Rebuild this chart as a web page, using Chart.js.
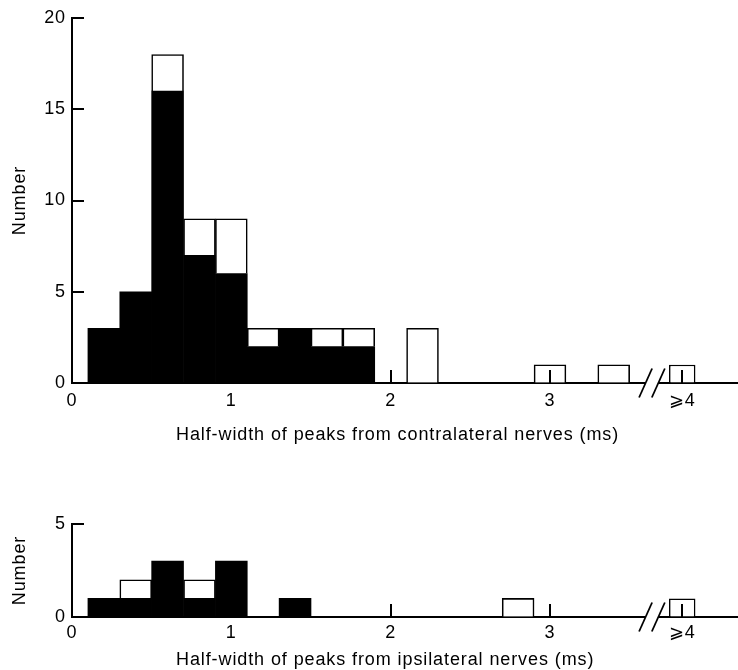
<!DOCTYPE html>
<html>
<head>
<meta charset="utf-8">
<script src="https://cdn.jsdelivr.net/npm/chart.js@4/dist/chart.umd.min.js"></script>
<style>
  html, body { margin: 0; padding: 0; background: #fff; overflow: hidden; }
  #wrap { position: relative; width: 738px; height: 670px; }
  canvas { position: absolute; left: 0; }
  #contra { top: 0; }
  #ipsi { top: 450px; }
</style>
</head>
<body>
<div id="wrap">
  <canvas id="contra" width="738" height="450"></canvas>
  <canvas id="ipsi" width="738" height="220"></canvas>
</div>
<script>
// Half-width bins (ms): centres of 0.2 ms wide bins, 0.1-0.3, 0.3-0.5, ...
const binCentres = [0.2, 0.4, 0.6, 0.8, 1.0, 1.2, 1.4, 1.6, 1.8, 2.0, 2.2, 2.4, 2.6, 2.8, 3.0, 3.2, 3.4];

// Contralateral nerves: filled and open parts of each bin
const contraFilled = [3, 5, 16, 7, 6, 2, 3, 2, 2, 0, 0, 0, 0, 0, 0, 0, 0];
const contraOpen   = [0, 0,  2, 2, 3, 1, 0, 1, 1, 0, 3, 0, 0, 0, 1, 0, 1];
// ">=4 ms" bin: [filled, open]
const contraOverflow = [0, 1];

// Ipsilateral nerves
const ipsiFilled = [1, 1, 3, 1, 3, 0, 1, 0, 0, 0, 0, 0, 0, 0, 0, 0, 0];
const ipsiOpen   = [0, 1, 0, 1, 0, 0, 0, 0, 0, 0, 0, 0, 0, 1, 0, 0, 0];
const ipsiOverflow = [0, 1];

// Axis labels
const xTickValues = [0, 1, 2, 3];
const xTickLabels = ['0', '1', '2', '3', '\u2A7E4'];
const contraYMax = 20;
const ipsiYMax = 5;
const yStep = 5;
const yTitle = 'Number';
const contraCaption = 'Half-width of peaks from contralateral nerves (ms)';
const ipsiCaption = 'Half-width of peaks from ipsilateral nerves (ms)';

// Broken x axis: the open-ended bin sits past the break
const OVERFLOW_AT = 3.83;
const BREAK_MARKS = [3.6, 3.68];
const X_MAX = 4.18;

const FONT = { family: "'Liberation Sans', Arial, Helvetica, sans-serif", size: 18 };
const LETTER_SPACING = '0.9px';

const textSpacing = {
  id: 'textSpacing',
  beforeUpdate(chart) { chart.ctx.letterSpacing = LETTER_SPACING; },
  beforeDraw(chart) { chart.ctx.letterSpacing = LETTER_SPACING; }
};

// Inward tick marks, axis break and the caption under the axis
const axisDecor = {
  id: 'axisDecor',
  afterDraw(chart, args, opts) {
    const { ctx, chartArea: a, scales: { x, y } } = chart;
    ctx.save();
    ctx.strokeStyle = '#000';
    ctx.lineWidth = 2;
    ctx.lineCap = 'butt';
    y.ticks.forEach(t => {
      if (t.value === 0) return;
      const py = Math.round(y.getPixelForValue(t.value));
      ctx.beginPath();
      ctx.moveTo(a.left, py);
      ctx.lineTo(a.left + 12, py);
      ctx.stroke();
    });
    x.ticks.forEach(t => {
      if (t.value === 0) return;
      const px = Math.round(x.getPixelForValue(t.value));
      ctx.beginPath();
      ctx.moveTo(px, a.bottom);
      ctx.lineTo(px, a.bottom - 13);
      ctx.stroke();
    });
    const b0 = x.getPixelForValue(BREAK_MARKS[0]);
    const b1 = x.getPixelForValue(BREAK_MARKS[1]);
    ctx.fillStyle = '#fff';
    ctx.fillRect(b0, a.bottom - 2, b1 - b0, 4);
    ctx.lineWidth = 1.8;
    [b0, b1].forEach(bx => {
      ctx.beginPath();
      ctx.moveTo(bx - 6.5, a.bottom + 14.5);
      ctx.lineTo(bx + 6.5, a.bottom - 14.5);
      ctx.stroke();
    });
    ctx.letterSpacing = LETTER_SPACING;
    ctx.fillStyle = '#000';
    ctx.font = `${FONT.size}px ${FONT.family}`;
    ctx.textAlign = 'left';
    ctx.textBaseline = 'alphabetic';
    ctx.fillText(opts.caption, a.left + 104, opts.captionBaseline);
    ctx.restore();
  }
};

function points(values) {
  return binCentres.map((c, i) => ({ x: c, y: values[i] })).filter(p => p.y > 0);
}
function overflowPoint(v) {
  return v > 0 ? [{ x: OVERFLOW_AT, y: v }] : [];
}

function makeChart(id, cfg) {
  const filledStyle = { backgroundColor: '#000', borderWidth: 0, barPercentage: 1, categoryPercentage: 1 };
  const openStyle = { backgroundColor: '#fff', borderColor: '#000', borderWidth: 1.6, borderSkipped: 'start', barPercentage: 1, categoryPercentage: 1 };
  return new Chart(document.getElementById(id), {
    type: 'bar',
    data: {
      datasets: [
        { label: 'filled', data: points(cfg.filled), ...filledStyle },
        { label: 'open', data: points(cfg.open), ...openStyle },
        { label: 'filled \u22654', data: overflowPoint(cfg.overflow[0]), ...filledStyle, barPercentage: 0.83 },
        { label: 'open \u22654', data: overflowPoint(cfg.overflow[1]), ...openStyle, barPercentage: 0.83 }
      ]
    },
    options: {
      responsive: false,
      animation: false,
      events: [],
      layout: { padding: { top: cfg.padTop, left: 0, right: 0, bottom: 0 } },
      plugins: {
        legend: { display: false },
        tooltip: { enabled: false },
        axisDecor: { caption: cfg.caption, captionBaseline: cfg.captionBaseline }
      },
      scales: {
        x: {
          type: 'linear',
          stacked: true,
          offset: false,
          min: 0,
          max: X_MAX,
          z: 1,
          grid: { display: true, drawOnChartArea: false, drawTicks: false, offset: false },
          border: { display: true, color: '#000', width: 2 },
          afterBuildTicks: s => { s.ticks = [...xTickValues, OVERFLOW_AT].map(v => ({ value: v })); },
          afterFit: s => { s.height = cfg.xAxisHeight; },
          ticks: {
            autoSkip: false,
            maxRotation: 0,
            padding: cfg.xLabelPad,
            color: '#000',
            font: FONT,
            callback: (v, i) => xTickLabels[i]
          }
        },
        y: {
          stacked: true,
          min: 0,
          max: cfg.yMax,
          z: 1,
          grid: { display: true, drawOnChartArea: false, drawTicks: false },
          border: { display: true, color: '#000', width: 2 },
          afterFit: s => { s.width = 72; },
          ticks: { stepSize: yStep, padding: 6, color: '#000', font: FONT },
          title: { display: true, text: yTitle, color: '#000', font: FONT, padding: { top: 9, bottom: 0 } }
        }
      }
    },
    plugins: [textSpacing, axisDecor]
  });
}

makeChart('contra', {
  filled: contraFilled, open: contraOpen, overflow: contraOverflow, yMax: contraYMax,
  padTop: 18, xAxisHeight: 67, xLabelPad: 7, caption: contraCaption, captionBaseline: 440
});
makeChart('ipsi', {
  filled: ipsiFilled, open: ipsiOpen, overflow: ipsiOverflow, yMax: ipsiYMax,
  padTop: 74, xAxisHeight: 53, xLabelPad: 5, caption: ipsiCaption, captionBaseline: 215
});
</script>
</body>
</html>
